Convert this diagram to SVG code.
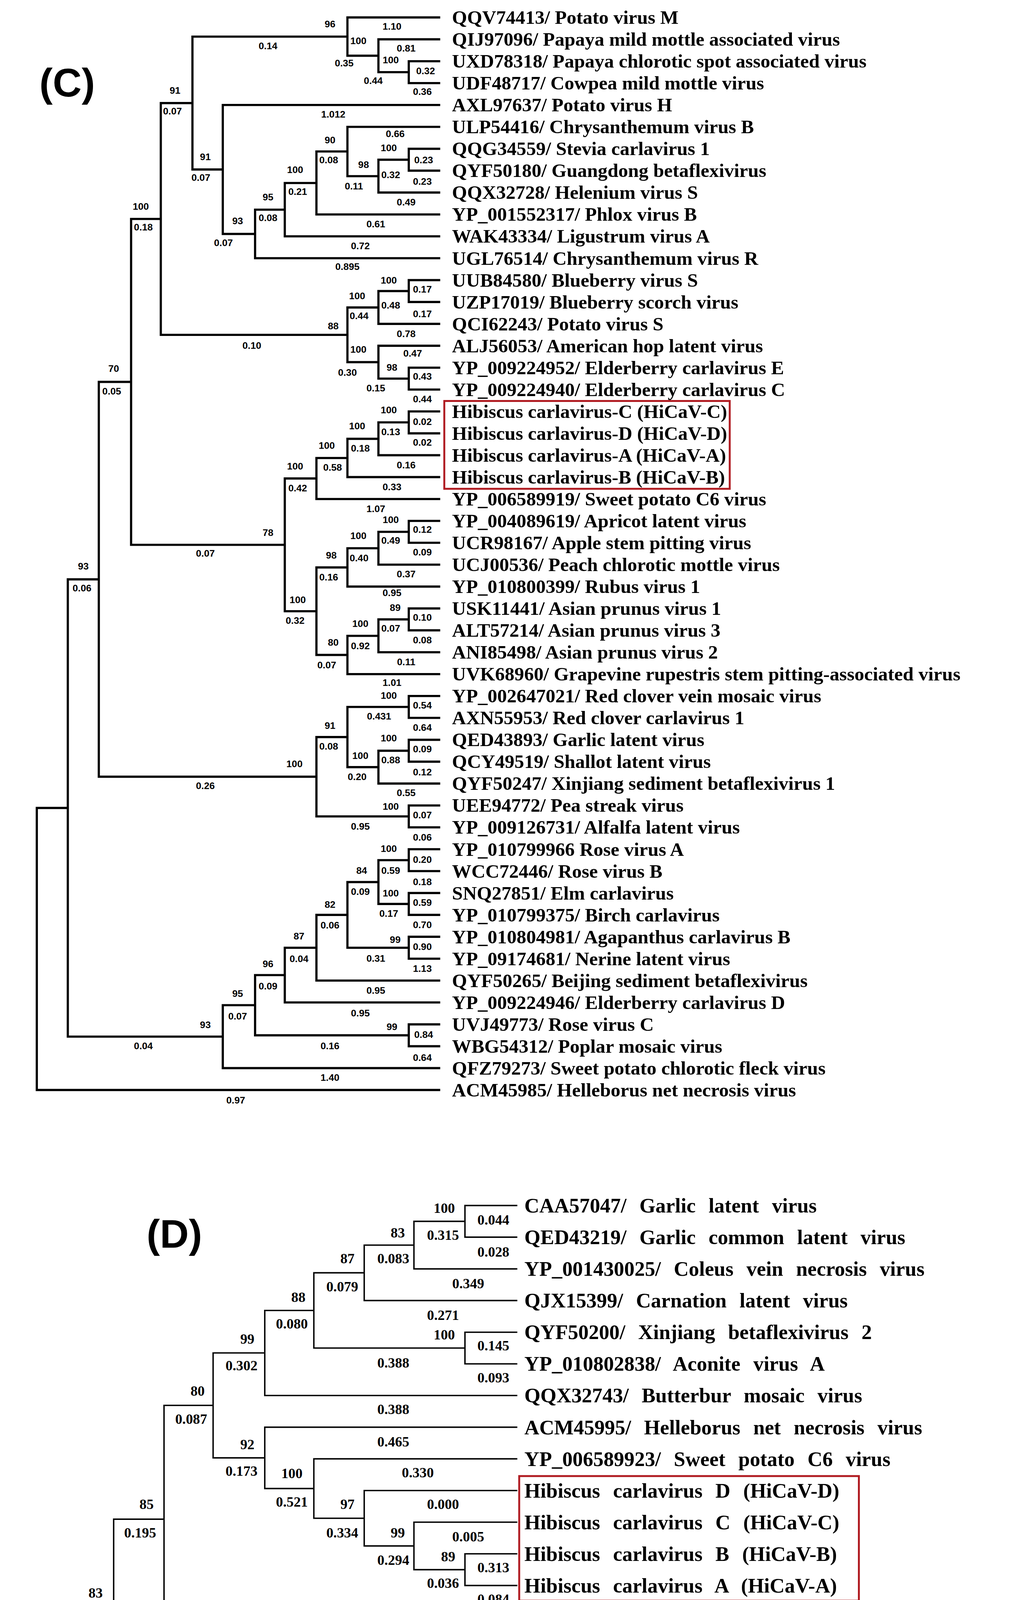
<svg xmlns="http://www.w3.org/2000/svg" width="2593" height="5355" viewBox="0 0 2593 5355">
<style>
.lc{fill:none;stroke:#000;stroke-width:3.4;stroke-linecap:square}
.ld{fill:none;stroke:#000;stroke-width:2.2;stroke-linecap:square}
.tc{font-family:"Liberation Serif",serif;font-weight:bold;font-size:30px;dominant-baseline:central}
.td{font-family:"Liberation Serif",serif;font-weight:bold;font-size:32px;word-spacing:12px;dominant-baseline:central}
.nc{font-family:"Liberation Sans",sans-serif;font-weight:bold;font-size:15px;text-anchor:middle;dominant-baseline:central}
.nd{font-family:"Liberation Serif",serif;font-weight:bold;font-size:22px;text-anchor:middle;dominant-baseline:central}
.ttl{font-family:"Liberation Sans",sans-serif;font-weight:bold;font-size:62px;text-anchor:middle;dominant-baseline:central}
.box{fill:none;stroke:#B01C22;stroke-width:3}
</style>
<rect width="2593" height="5355" fill="#fff"/>
<g transform="scale(1.653)">
<g id="treeC">
<text class="ttl" x="104" y="128">(C)</text>
<g id="connectorsC"><path class="lc" d="M57,1251.3V1688.1M57,1251.3H105M57,1688.1H680
M105,897.2V1605.45M105,897.2H153M105,1605.45H345
M153,591.4V1202.9M153,591.4H203M153,1202.9H490
M203,339.1V843.8M203,339.1H249M203,843.8H441
M249,159.6V518.6M249,159.6H298M249,518.6H538
M298,56.7V262.5M298,56.7H538M298,262.5H345
M538,27V86.3M538,27H680M538,86.3H586
M586,60.9V111.75M586,60.9H680M586,111.75H633
M633,94.8V128.7M633,94.8H680M633,128.7H680
M345,162.6V362.3M345,162.6H680M345,362.3H395
M395,324.7V399.9M395,324.7H441M395,399.9H680
M441,283.4V366M441,283.4H490M441,366H680
M490,234.6V332.1M490,234.6H538M490,332.1H680
M538,196.5V272.8M538,196.5H680M538,272.8H586
M586,247.35V298.2M586,247.35H633M586,298.2H680
M633,230.4V264.3M633,230.4H680M633,264.3H680
M538,476.2V560.9M538,476.2H586M538,560.9H586
M586,450.75V501.6M586,450.75H633M586,501.6H680
M633,433.8V467.7M633,433.8H680M633,467.7H680
M586,535.5V586.35M586,535.5H680M586,586.35H633
M633,569.4V603.3M633,569.4H680M633,603.3H680
M441,741V946.6M441,741H490M441,946.6H490
M490,709.3V772.8M490,709.3H538M490,772.8H680
M538,679.6V738.9M538,679.6H586M538,738.9H680
M586,654.15V705M586,654.15H633M586,705H680
M633,637.2V671.1M633,637.2H680M633,671.1H680
M490,878.8V1014.3M490,878.8H538M490,1014.3H538
M538,849.1V908.4M538,849.1H586M538,908.4H680
M586,823.65V874.5M586,823.65H633M586,874.5H680
M633,806.7V840.6M633,806.7H680M633,840.6H680
M538,984.7V1044M538,984.7H586M538,1044H680
M586,959.25V1010.1M586,959.25H633M586,1010.1H680
M633,942.3V976.2M633,942.3H680M633,976.2H680
M490,1141.5V1264.35M490,1141.5H538M490,1264.35H633
M538,1094.85V1188.1M538,1094.85H633M538,1188.1H586
M633,1077.9V1111.8M633,1077.9H680M633,1111.8H680
M586,1162.65V1213.5M586,1162.65H633M586,1213.5H680
M633,1145.7V1179.6M633,1145.7H680M633,1179.6H680
M633,1247.4V1281.3M633,1247.4H680M633,1281.3H680
M345,1556.7V1654.2M345,1556.7H395M345,1654.2H680
M395,1510.1V1603.35M395,1510.1H441M395,1603.35H633
M633,1586.4V1620.3M633,1586.4H680M633,1620.3H680
M441,1467.75V1552.5M441,1467.75H490M441,1552.5H680
M490,1416.9V1518.6M490,1416.9H538M490,1518.6H680
M538,1366.05V1467.75M538,1366.05H586M538,1467.75H633
M586,1332.15V1399.95M586,1332.15H633M586,1399.95H633
M633,1315.2V1349.1M633,1315.2H680M633,1349.1H680
M633,1383V1416.9M633,1383H680M633,1416.9H680
M633,1450.8V1484.7M633,1450.8H680M633,1484.7H680"/></g>
<g id="branchLabelsC" class="nc">
<text x="511" y="37">96</text><text x="607" y="41">1.10</text><text x="415" y="71">0.14</text><text x="555" y="63">100</text><text x="629" y="75">0.81</text><text x="533" y="98">0.35</text><text x="605" y="93">100</text><text x="659" y="110">0.32</text><text x="578" y="125">0.44</text><text x="654" y="142">0.36</text>
<text x="271" y="140">91</text><text x="267" y="172">0.07</text><text x="516" y="177">1.012</text><text x="511" y="217">90</text><text x="612" y="207">0.66</text><text x="602" y="229">100</text><text x="509" y="248">0.08</text><text x="656" y="248">0.23</text><text x="318" y="243">91</text><text x="311" y="275">0.07</text><text x="563" y="255">98</text><text x="605" y="271">0.32</text><text x="654" y="281">0.23</text><text x="548" y="288">0.11</text><text x="457" y="263">100</text><text x="461" y="297">0.21</text><text x="629" y="313">0.49</text><text x="415" y="305">95</text><text x="415" y="337">0.08</text><text x="582" y="347">0.61</text><text x="368" y="342">93</text><text x="346" y="376">0.07</text><text x="558" y="381">0.72</text><text x="538" y="413">0.895</text><text x="218" y="320">100</text><text x="222" y="352">0.18</text>
<text x="602" y="434">100</text><text x="654" y="448">0.17</text><text x="553" y="458">100</text><text x="605" y="473">0.48</text><text x="654" y="486">0.17</text><text x="556" y="489">0.44</text><text x="516" y="505">88</text><text x="629" y="517">0.78</text><text x="390" y="535">0.10</text><text x="555" y="541">100</text><text x="639" y="547">0.47</text><text x="607" y="569">98</text><text x="654" y="583">0.43</text><text x="538" y="577">0.30</text><text x="582" y="601">0.15</text><text x="654" y="618">0.44</text><text x="176" y="571">70</text><text x="173" y="606">0.05</text>
<text x="602" y="635">100</text><text x="654" y="653">0.02</text><text x="553" y="660">100</text><text x="605" y="669">0.13</text><text x="654" y="685">0.02</text><text x="506" y="690">100</text><text x="558" y="694">0.18</text><text x="457" y="722">100</text><text x="515" y="724">0.58</text><text x="629" y="720">0.16</text><text x="607" y="754">0.33</text><text x="461" y="756">0.42</text><text x="582" y="788">1.07</text><text x="605" y="805">100</text><text x="654" y="820">0.12</text><text x="415" y="825">78</text><text x="555" y="830">100</text><text x="605" y="837">0.49</text><text x="654" y="855">0.09</text><text x="318" y="857">0.07</text><text x="513" y="860">98</text><text x="556" y="864">0.40</text><text x="129" y="877">93</text><text x="629" y="889">0.37</text><text x="509" y="894">0.16</text><text x="127" y="911">0.06</text><text x="607" y="918">0.95</text><text x="461" y="929">100</text><text x="612" y="941">89</text><text x="654" y="956">0.10</text><text x="457" y="961">0.32</text><text x="558" y="966">100</text><text x="605" y="973">0.07</text><text x="654" y="991">0.08</text><text x="516" y="995">80</text><text x="558" y="1000">0.92</text><text x="629" y="1025">0.11</text><text x="506" y="1030">0.07</text><text x="607" y="1057">1.01</text>
<text x="602" y="1077">100</text><text x="654" y="1092">0.54</text><text x="587" y="1109">0.431</text><text x="511" y="1124">91</text><text x="654" y="1127">0.64</text><text x="602" y="1143">100</text><text x="509" y="1156">0.08</text><text x="654" y="1160">0.09</text><text x="558" y="1170">100</text><text x="605" y="1177">0.88</text><text x="456" y="1183">100</text><text x="654" y="1196">0.12</text><text x="553" y="1203">0.20</text><text x="318" y="1217">0.26</text><text x="629" y="1228">0.55</text><text x="605" y="1249">100</text><text x="654" y="1262">0.07</text><text x="558" y="1280">0.95</text><text x="654" y="1297">0.06</text>
<text x="602" y="1314">100</text><text x="654" y="1331">0.20</text><text x="560" y="1348">84</text><text x="605" y="1348">0.59</text><text x="654" y="1366">0.18</text><text x="558" y="1381">0.09</text><text x="605" y="1383">100</text><text x="654" y="1398">0.59</text><text x="511" y="1401">82</text><text x="602" y="1415">0.17</text><text x="511" y="1433">0.06</text><text x="654" y="1432">0.70</text><text x="463" y="1450">87</text><text x="612" y="1455">99</text><text x="654" y="1466">0.90</text><text x="582" y="1484">0.31</text><text x="463" y="1485">0.04</text><text x="415" y="1493">96</text><text x="654" y="1500">1.13</text><text x="415" y="1527">0.09</text><text x="582" y="1534">0.95</text><text x="368" y="1539">95</text><text x="558" y="1569">0.95</text><text x="368" y="1574">0.07</text><text x="607" y="1590">99</text><text x="656" y="1602">0.84</text><text x="318" y="1587">93</text><text x="222" y="1620">0.04</text><text x="511" y="1620">0.16</text><text x="654" y="1638">0.64</text><text x="511" y="1669">1.40</text><text x="365" y="1704">0.97</text>
</g>
<g id="tipsC" class="tc">
<g id="c0"><text x="700" y="27">QQV74413/ Potato virus M</text></g>
<g id="c1"><text x="700" y="60.9">QIJ97096/ Papaya mild mottle associated virus</text></g>
<g id="c2"><text x="700" y="94.8">UXD78318/ Papaya chlorotic spot associated virus</text></g>
<g id="c3"><text x="700" y="128.7">UDF48717/ Cowpea mild mottle virus</text></g>
<g id="c4"><text x="700" y="162.6">AXL97637/ Potato virus H</text></g>
<g id="c5"><text x="700" y="196.5">ULP54416/ Chrysanthemum virus B</text></g>
<g id="c6"><text x="700" y="230.4">QQG34559/ Stevia carlavirus 1</text></g>
<g id="c7"><text x="700" y="264.3">QYF50180/ Guangdong betaflexivirus</text></g>
<g id="c8"><text x="700" y="298.2">QQX32728/ Helenium virus S</text></g>
<g id="c9"><text x="700" y="332.1">YP_001552317/ Phlox virus B</text></g>
<g id="c10"><text x="700" y="366">WAK43334/ Ligustrum virus A</text></g>
<g id="c11"><text x="700" y="399.9">UGL76514/ Chrysanthemum virus R</text></g>
<g id="c12"><text x="700" y="433.8">UUB84580/ Blueberry virus S</text></g>
<g id="c13"><text x="700" y="467.7">UZP17019/ Blueberry scorch virus</text></g>
<g id="c14"><text x="700" y="501.6">QCI62243/ Potato virus S</text></g>
<g id="c15"><text x="700" y="535.5">ALJ56053/ American hop latent virus</text></g>
<g id="c16"><text x="700" y="569.4">YP_009224952/ Elderberry carlavirus E</text></g>
<g id="c17"><text x="700" y="603.3">YP_009224940/ Elderberry carlavirus C</text></g>
<g id="c18"><text x="700" y="637.2">Hibiscus carlavirus-C (HiCaV-C)</text></g>
<g id="c19"><text x="700" y="671.1">Hibiscus carlavirus-D (HiCaV-D)</text></g>
<g id="c20"><text x="700" y="705">Hibiscus carlavirus-A (HiCaV-A)</text></g>
<g id="c21"><text x="700" y="738.9">Hibiscus carlavirus-B (HiCaV-B)</text></g>
<g id="c22"><text x="700" y="772.8">YP_006589919/ Sweet potato C6 virus</text></g>
<g id="c23"><text x="700" y="806.7">YP_004089619/ Apricot latent virus</text></g>
<g id="c24"><text x="700" y="840.6">UCR98167/ Apple stem pitting virus</text></g>
<g id="c25"><text x="700" y="874.5">UCJ00536/ Peach chlorotic mottle virus</text></g>
<g id="c26"><text x="700" y="908.4">YP_010800399/ Rubus virus 1</text></g>
<g id="c27"><text x="700" y="942.3">USK11441/ Asian prunus virus 1</text></g>
<g id="c28"><text x="700" y="976.2">ALT57214/ Asian prunus virus 3</text></g>
<g id="c29"><text x="700" y="1010.1">ANI85498/ Asian prunus virus 2</text></g>
<g id="c30"><text x="700" y="1044">UVK68960/ Grapevine rupestris stem pitting-associated virus</text></g>
<g id="c31"><text x="700" y="1077.9">YP_002647021/ Red clover vein mosaic virus</text></g>
<g id="c32"><text x="700" y="1111.8">AXN55953/ Red clover carlavirus 1</text></g>
<g id="c33"><text x="700" y="1145.7">QED43893/ Garlic latent virus</text></g>
<g id="c34"><text x="700" y="1179.6">QCY49519/ Shallot latent virus</text></g>
<g id="c35"><text x="700" y="1213.5">QYF50247/ Xinjiang sediment betaflexivirus 1</text></g>
<g id="c36"><text x="700" y="1247.4">UEE94772/ Pea streak virus</text></g>
<g id="c37"><text x="700" y="1281.3">YP_009126731/ Alfalfa latent virus</text></g>
<g id="c38"><text x="700" y="1315.2">YP_010799966 Rose virus A</text></g>
<g id="c39"><text x="700" y="1349.1">WCC72446/ Rose virus B</text></g>
<g id="c40"><text x="700" y="1383">SNQ27851/ Elm carlavirus</text></g>
<g id="c41"><text x="700" y="1416.9">YP_010799375/ Birch carlavirus</text></g>
<g id="c42"><text x="700" y="1450.8">YP_010804981/ Agapanthus carlavirus B</text></g>
<g id="c43"><text x="700" y="1484.7">YP_09174681/ Nerine latent virus</text></g>
<g id="c44"><text x="700" y="1518.6">QYF50265/ Beijing sediment betaflexivirus</text></g>
<g id="c45"><text x="700" y="1552.5">YP_009224946/ Elderberry carlavirus D</text></g>
<g id="c46"><text x="700" y="1586.4">UVJ49773/ Rose virus C</text></g>
<g id="c47"><text x="700" y="1620.3">WBG54312/ Poplar mosaic virus</text></g>
<g id="c48"><text x="700" y="1654.2">QFZ79273/ Sweet potato chlorotic fleck virus</text></g>
<g id="c49"><text x="700" y="1688.1">ACM45985/ Helleborus net necrosis virus</text></g>
</g>
<rect class="box" x="688" y="621" width="442" height="136"/>
</g>
<g id="treeD" transform="translate(0,1671)">
<text class="ttl" x="270" y="240">(D)</text>
<g id="connectorsD"><path class="ld" d="M18,942.7V1251.9M18,942.7H97M18,1251.9H410
M97,819V1066.5M97,819H176M97,1066.5H641
M176,681.8V956.1M176,681.8H254M176,956.1H720
M720,931.6V980.6M720,931.6H800M720,980.6H800
M254,505.5V858.05M254,505.5H330M254,858.05H720
M720,833.5V882.6M720,833.5H800M720,882.6H800
M330,424.3V586.8M330,424.3H410M330,586.8H410
M410,358.5V490.2M410,358.5H486M410,490.2H800
M486,300.2V416.7M486,300.2H564M486,416.7H720
M720,392.2V441.2M720,392.2H800M720,441.2H800
M564,257.3V343.1M564,257.3H641M564,343.1H800
M641,220.5V294.1M641,220.5H720M641,294.1H800
M720,196V245M720,196H800M720,245H800
M410,539.3V634.3M410,539.3H800M410,634.3H486
M486,588.3V680.3M486,588.3H800M486,680.3H564
M564,637.4V723.2M564,637.4H800M564,723.2H641
M641,686.4V760M641,686.4H800M641,760H720
M720,735.4V784.5M720,735.4H800M720,784.5H800
M641,1029.7V1103.25M641,1029.7H800M641,1103.25H720
M720,1078.7V1127.8M720,1078.7H800M720,1127.8H800
M410,1176.8V1327M410,1176.8H800M410,1327H486
M486,1250.35V1403.6M486,1250.35H720M486,1403.6H564
M720,1225.8V1274.9M720,1225.8H800M720,1274.9H800
M564,1348.45V1458.8M564,1348.45H720M564,1458.8H641
M720,1323.9V1373M720,1323.9H800M720,1373H800
M641,1422V1495.55M641,1422H800M641,1495.55H720
M720,1471V1520.1M720,1471H800M720,1520.1H800"/></g>
<g id="branchLabelsD" class="nd">
<text x="688" y="200">100</text><text x="764" y="218">0.044</text><text x="616" y="238">83</text><text x="686" y="242">0.315</text><text x="764" y="268">0.028</text><text x="538" y="278">87</text><text x="609" y="278">0.083</text><text x="725" y="317">0.349</text><text x="530" y="322">0.079</text><text x="462" y="338">88</text><text x="686" y="366">0.271</text><text x="452" y="379">0.080</text><text x="688" y="396">100</text><text x="383" y="403">99</text><text x="764" y="413">0.145</text><text x="609" y="440">0.388</text><text x="374" y="444">0.302</text><text x="764" y="463">0.093</text><text x="306" y="483">80</text><text x="609" y="512">0.388</text><text x="296" y="527">0.087</text><text x="609" y="562">0.465</text><text x="383" y="566">92</text><text x="374" y="607">0.173</text><text x="647" y="610">0.330</text><text x="452" y="611">100</text><text x="452" y="655">0.521</text><text x="227" y="659">85</text><text x="538" y="659">97</text><text x="686" y="659">0.000</text><text x="217" y="703">0.195</text><text x="616" y="703">99</text><text x="530" y="703">0.334</text><text x="725" y="709">0.005</text><text x="694" y="740">89</text><text x="609" y="745">0.294</text><text x="764" y="757">0.313</text><text x="686" y="781">0.036</text><text x="148" y="796">83</text><text x="764" y="806">0.084</text><text x="694" y="837">63</text><text x="139" y="839">0.073</text><text x="764" y="855">0.538</text><text x="491" y="879">0.098</text><text x="764" y="905">0.640</text><text x="694" y="935">69</text><text x="764" y="953">1.332</text><text x="452" y="979">0.241</text><text x="764" y="1002">0.664</text><text x="609" y="1046">100</text><text x="725" y="1050">0.559</text><text x="688" y="1081">100</text><text x="374" y="1087">0.748</text><text x="764" y="1100">0.051</text><text x="686" y="1125">0.577</text><text x="764" y="1148">0.043</text><text x="609" y="1197">0.739</text><text x="383" y="1228">99</text><text x="694" y="1228">99</text><text x="764" y="1248">0.240</text><text x="217" y="1272">0.250</text><text x="609" y="1272">0.275</text><text x="764" y="1296">0.121</text><text x="462" y="1305">93</text><text x="688" y="1326">100</text><text x="452" y="1346">0.146</text><text x="764" y="1346">0.005</text><text x="647" y="1370">0.554</text><text x="538" y="1383">79</text><text x="764" y="1394">0.014</text><text x="530" y="1425">0.085</text><text x="616" y="1437">99</text><text x="725" y="1444">0.218</text><text x="694" y="1474">99</text><text x="609" y="1480">0.200</text><text x="764" y="1492">0.066</text><text x="686" y="1518">0.117</text><text x="764" y="1541">0.066</text>
</g>
<g id="tipsD" class="td">
<g id="d0"><text x="812" y="196">CAA57047/ Garlic latent virus</text></g>
<g id="d1"><text x="812" y="245">QED43219/ Garlic common latent virus</text></g>
<g id="d2"><text x="812" y="294.1">YP_001430025/ Coleus vein necrosis virus</text></g>
<g id="d3"><text x="812" y="343.1">QJX15399/ Carnation latent virus</text></g>
<g id="d4"><text x="812" y="392.2">QYF50200/ Xinjiang betaflexivirus 2</text></g>
<g id="d5"><text x="812" y="441.2">YP_010802838/ Aconite virus A</text></g>
<g id="d6"><text x="812" y="490.2">QQX32743/ Butterbur mosaic virus</text></g>
<g id="d7"><text x="812" y="539.3">ACM45995/ Helleborus net necrosis virus</text></g>
<g id="d8"><text x="812" y="588.3">YP_006589923/ Sweet potato C6 virus</text></g>
<g id="d9"><text x="812" y="637.4">Hibiscus carlavirus D (HiCaV-D)</text></g>
<g id="d10"><text x="812" y="686.4">Hibiscus carlavirus C (HiCaV-C)</text></g>
<g id="d11"><text x="812" y="735.4">Hibiscus carlavirus B (HiCaV-B)</text></g>
<g id="d12"><text x="812" y="784.5">Hibiscus carlavirus A (HiCaV-A)</text></g>
<g id="d13"><text x="812" y="833.5">QYF50251/ Xinjiang sediment betaflexivirus 1</text></g>
<g id="d14"><text x="812" y="882.6">QED42796/ Allium carlavirus A</text></g>
<g id="d15"><text x="812" y="931.6">QFZ79277/ Sweet potato chlorotic fleck virus</text></g>
<g id="d16"><text x="812" y="980.6">WBG54313/ Poplar mosaic virus</text></g>
<g id="d17"><text x="812" y="1029.7">QQV74417/ Potato virus M</text></g>
<g id="d18"><text x="812" y="1078.7">UXD78322/ Papaya chlorotic spot associated virus</text></g>
<g id="d19"><text x="812" y="1127.8">UDF48721/ Cowpea mild mottle virus</text></g>
<g id="d20"><text x="812" y="1176.8">QYF50269/ Beijing sediment betaflexivirus</text></g>
<g id="d21"><text x="812" y="1225.8">YP_009664744/ Helleborus mosaic virus</text></g>
<g id="d22"><text x="812" y="1274.9">SNQ27850/ Elm carlavirus</text></g>
<g id="d23"><text x="812" y="1323.9">YP_842442/ Narcissus symptomless virus</text></g>
<g id="d24"><text x="812" y="1373">UIS42840/ Nerine latent virus</text></g>
<g id="d25"><text x="812" y="1422">YP_009224950/ Elderberry carlavirus D</text></g>
<g id="d26"><text x="812" y="1471">YP_009224932/ Elderberry carlavirus A</text></g>
<g id="d27"><text x="812" y="1520.1">YP_009224938/ Elderberry carlavirus B</text></g>
</g>
<rect class="box" x="804" y="615" width="526" height="193"/>
</g>
</g>
</svg>
